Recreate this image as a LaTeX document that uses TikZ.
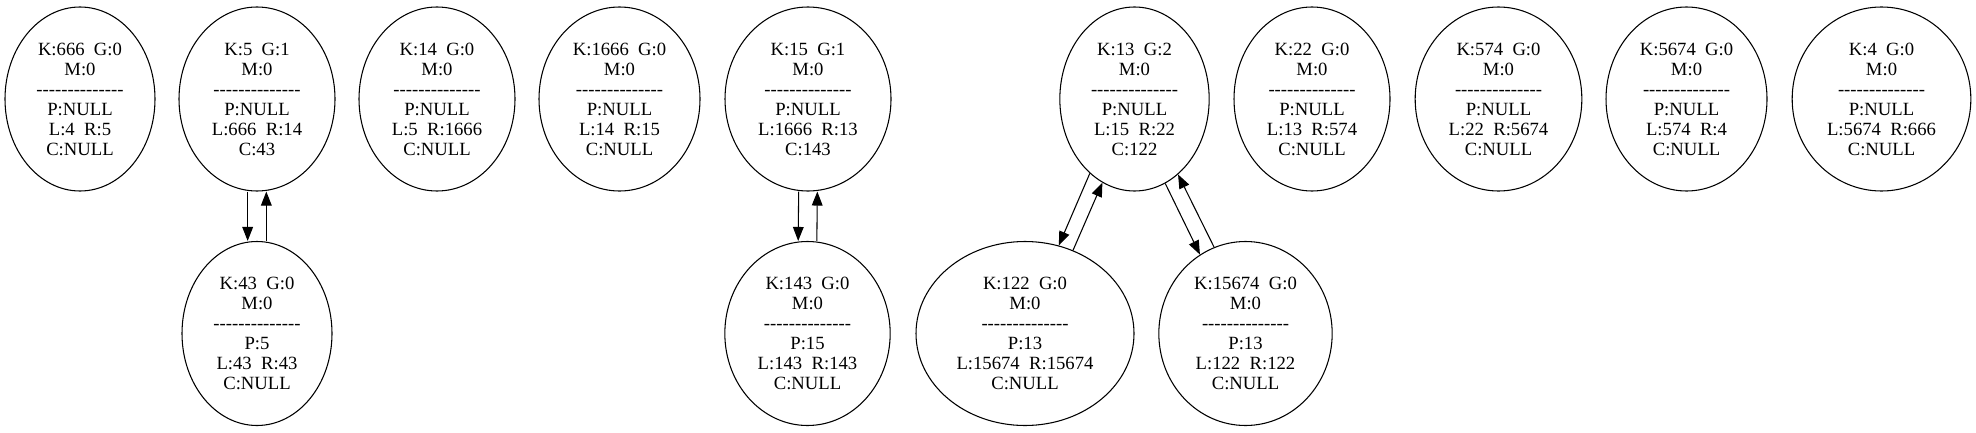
\documentclass[tikz,border=0pt]{standalone}
\usepackage{fontspec}
\setmainfont{Liberation Serif}[Ligatures=TeXOff]
\usetikzlibrary{shapes.geometric,arrows.meta}
\tikzstyle{kn}=[ellipse,draw=black,line width=0.8pt,inner xsep=4pt,inner ysep=2pt,
  minimum height=138pt,align=center,font=\fontsize{14}{15}\selectfont]
\tikzstyle{arr}=[line width=0.8pt,-{Triangle[length=10.5pt,width=8pt]}]
\newcommand{\sepline}{--------------}

\begin{document}
\begin{tikzpicture}[x=0.75pt,y=-0.75pt]
            \useasboundingbox (0,0) rectangle (1976,432);
            % top row
            \node [style=kn, minimum width=112.5pt] (k666) at (80, 99) {K:666~~G:0\\M:0\\\sepline\\P:NULL\\L:4~~R:5\\C:NULL};
            \node [style=kn, minimum width=117pt] (k5) at (257, 99) {K:5~~G:1\\M:0\\\sepline\\P:NULL\\L:666~~R:14\\C:43};
            \node [style=kn, minimum width=117pt] (k14) at (437, 99) {K:14~~G:0\\M:0\\\sepline\\P:NULL\\L:5~~R:1666\\C:NULL};
            \node [style=kn, minimum width=120.75pt] (k1666) at (619.5, 99) {K:1666~~G:0\\M:0\\\sepline\\P:NULL\\L:14~~R:15\\C:NULL};
            \node [style=kn, minimum width=124.5pt] (k15) at (808, 99) {K:15~~G:1\\M:0\\\sepline\\P:NULL\\L:1666~~R:13\\C:143};
            \node [style=kn, minimum width=112pt] (k13) at (1134.5, 99) {K:13~~G:2\\M:0\\\sepline\\P:NULL\\L:15~~R:22\\C:122};
            \node [style=kn, minimum width=117pt] (k22) at (1312, 99) {K:22~~G:0\\M:0\\\sepline\\P:NULL\\L:13~~R:574\\C:NULL};
            \node [style=kn, minimum width=125pt] (k574) at (1498.5, 99) {K:574~~G:0\\M:0\\\sepline\\P:NULL\\L:22~~R:5674\\C:NULL};
            \node [style=kn, minimum width=120.75pt] (k5674) at (1686.5, 99) {K:5674~~G:0\\M:0\\\sepline\\P:NULL\\L:574~~R:4\\C:NULL};
            \node [style=kn, minimum width=134pt] (k4) at (1881.5, 99) {K:4~~G:0\\M:0\\\sepline\\P:NULL\\L:5674~~R:666\\C:NULL};
            % children
            \node [style=kn, minimum width=112.5pt] (k43) at (257, 333.5) {K:43~~G:0\\M:0\\\sepline\\P:5\\L:43~~R:43\\C:NULL};
            \node [style=kn, minimum width=124pt] (k143) at (807.5, 333.5) {K:143~~G:0\\M:0\\\sepline\\P:15\\L:143~~R:143\\C:NULL};
            \node [style=kn, minimum width=163.5pt] (k122) at (1025, 333.5) {K:122~~G:0\\M:0\\\sepline\\P:13\\L:15674~~R:15674\\C:NULL};
            \node [style=kn, minimum width=130pt] (k15674) at (1245.5, 333.5) {K:15674~~G:0\\M:0\\\sepline\\P:13\\L:122~~R:122\\C:NULL};
            \draw [style=arr] ([xshift=-7pt]k5.south) to ([xshift=-7pt]k43.north);
            \draw [style=arr] ([xshift=7pt]k43.north) to ([xshift=7pt]k5.south);
            \draw [style=arr] ([xshift=-7pt]k15.south) to ([xshift=-7pt]k143.north);
            \draw [style=arr] ([xshift=7pt]k143.north) to ([xshift=7pt]k15.south);
            \draw [style=arr] (k13.239.3) to (k122.69.5);
            \draw [style=arr] (k122.60.7) to (k13.249.2);
            \draw [style=arr] (k13.290.6) to (k15674.120);
            \draw [style=arr] (k15674.110.6) to (k13.300.5);
\end{tikzpicture}
\end{document}
